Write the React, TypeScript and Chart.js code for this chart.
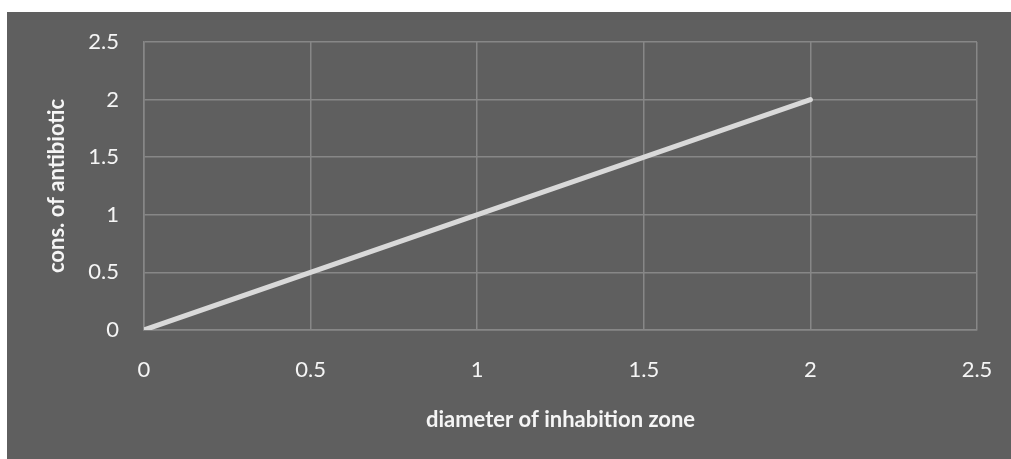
import React, { useEffect, useRef } from "react";
import { Chart, registerables } from "chart.js";

Chart.register(...registerables);

const diameter = [0, 2];
const consAntibiotic = [0, 2];
const xTickValues = [0, 0.5, 1, 1.5, 2, 2.5];
const xTickLabels = ["0", "0.5", "1", "1.5", "2", "2.5"];
const yTickValues = [0, 0.5, 1, 1.5, 2, 2.5];
const yTickLabels = ["0", "0.5", "1", "1.5", "2", "2.5"];

const BG = "#5f5f5f";
const GRID = "#878787";
const TEXT = "#f5f5f5";
const FONT = "Lato, 'Open Sans', sans-serif";

export default function App() {
  const ref = useRef<HTMLCanvasElement | null>(null);

  useEffect(() => {
    document.body.style.margin = "0";
    const canvas = ref.current;
    if (!canvas) return;
    const bgPlugin = {
      id: "bg",
      beforeDraw(chart: any) {
        const { ctx, width, height } = chart;
        ctx.save();
        ctx.fillStyle = BG;
        ctx.fillRect(0, 0, width, height);
        ctx.restore();
      },
    };
    const chart = new Chart(canvas, {
      type: "line",
      data: {
        datasets: [
          {
            data: diameter.map((x, i) => ({ x, y: consAntibiotic[i] })),
            borderColor: "#d9d9d9",
            borderWidth: 5,
            borderCapStyle: "round",
            pointRadius: 0,
            tension: 0,
          },
        ],
      },
      options: {
        animation: false,
        responsive: false,
        maintainAspectRatio: false,
        layout: { padding: { top: 30, right: 34, left: 0, bottom: 0 } },
        plugins: { legend: { display: false }, tooltip: { enabled: false } },
        scales: {
          x: {
            type: "linear",
            min: 0,
            max: 2.5,
            afterBuildTicks(axis: any) {
              axis.ticks = xTickValues.map((v) => ({ value: v }));
            },
            afterFit(axis: any) {
              axis.height = 129;
              axis.paddingLeft = 0;
              axis.paddingRight = 0;
            },
            grid: { color: GRID, lineWidth: 1.5, drawTicks: false },
            border: { color: GRID, width: 1.5 },
            ticks: {
              color: TEXT,
              padding: 27,
              font: { family: FONT, size: 22 },
              maxRotation: 0,
              callback: (_v: any, i: number) => xTickLabels[i],
            },
            title: {
              display: true,
              text: "diameter of inhabition zone",
              color: TEXT,
              font: { family: FONT, size: 22, weight: "bold" },
              padding: { bottom: 26, top: 0 },
            },
          },
          y: {
            type: "linear",
            min: 0,
            max: 2.5,
            afterBuildTicks(axis: any) {
              axis.ticks = yTickValues.map((v) => ({ value: v }));
            },
            afterFit(axis: any) {
              axis.width = 137;
              axis.paddingTop = 0;
              axis.paddingBottom = 0;
            },
            grid: { color: GRID, lineWidth: 1.5, drawTicks: false },
            border: { color: GRID, width: 1.5 },
            ticks: {
              color: TEXT,
              padding: 25,
              font: { family: FONT, size: 22 },
              callback: (_v: any, i: number) => yTickLabels[i],
            },
            title: {
              display: true,
              text: "cons. of antibiotic",
              color: TEXT,
              font: { family: FONT, size: 22, weight: "bold" },
              padding: { top: 37, bottom: 0 },
            },
          },
        },
      },
      plugins: [bgPlugin],
    } as any);
    return () => chart.destroy();
  }, []);

  return (
    <div style={{ position: "fixed", left: 7, top: 12, width: 1004, height: 447 }}>
      <canvas ref={ref} width={1004} height={447} style={{ display: "block", width: 1004, height: 447 }} />
    </div>
  );
}
